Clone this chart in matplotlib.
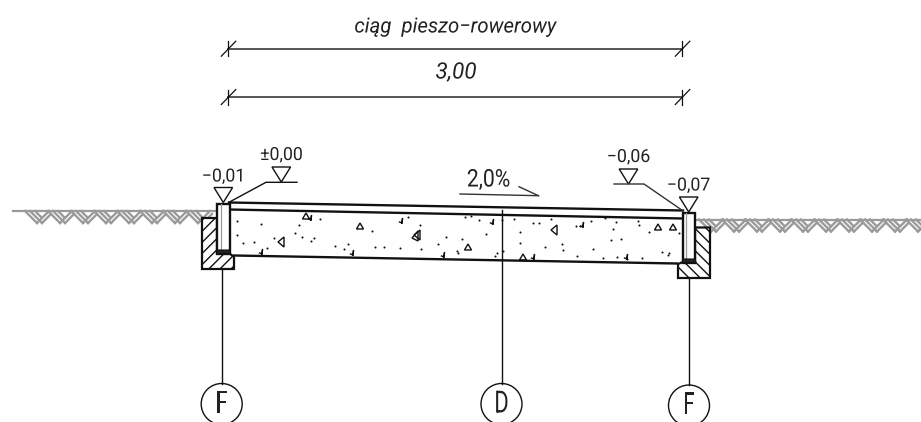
import matplotlib
matplotlib.use("Agg")
import matplotlib.pyplot as plt
from matplotlib.patches import Polygon, Circle
from matplotlib.patheffects import AbstractPathEffect
from matplotlib.transforms import Affine2D

plt.rcParams['font.family'] = ['Roboto', 'Liberation Sans', 'DejaVu Sans']
plt.rcParams['hatch.linewidth'] = 1.0

BLACK = '#111111'
GREY = '#9a9a9a'

# pavement edges, pixel readings
top_x = [229, 683]
top_y = [202.5, 210.5]
under_x = [229, 683]
under_y = [209.5, 218.5]
bottom_x = [234, 677]
bottom_y = [255.5, 263.5]

# kerbs: left, right, top, bottom
kerb_left = [217, 229.5, 203.5, 253.5]
kerb_right = [682.5, 695, 212.5, 262.5]

found_left = [(202, 218), (217, 218), (217, 253), (229, 253), (234, 257), (234, 269), (202, 269)]
found_right = [(695, 227.5), (710, 227.5), (710, 278), (678, 278), (678, 264), (683, 262), (695, 262)]

# elevation marks: text, text x, text y, triangle apex x, apex y
mark_text = ['\u22120,01', '\u00b10,00', '\u22120,06', '\u22120,07']
mark_text_x = [223.5, 281.5, 628.5, 688.5]
mark_text_y = [176.5, 155, 157, 185.5]
mark_apex_x = [223.3, 281.3, 628.5, 688.7]
mark_apex_y = [202.5, 182, 184, 212]

leader_a_x = [229.5, 266, 297]
leader_a_y = [202, 182.3, 182.3]
leader_b_x = [614, 644, 682.5]
leader_b_y = [184, 184, 210.5]

# section bubbles
bubble_x = [221.7, 501.5, 689]
bubble_y = [404, 404, 405.5]
bubble_name = ['F', 'D', 'F']
bubble_from = [269, 210, 278]

dim_y = [48.7, 97]
dim_x = [228.3, 682.3]

# concrete speckle
dots_x = [237, 261, 237, 243, 254, 274, 267, 299, 295, 302, 314, 311, 320, 335, 348, 344, 372, 375, 384,
          408, 420, 446, 462, 486, 479, 465, 471, 438, 421, 400, 457, 458, 497, 495, 503, 502, 514, 533,
          539, 551, 520, 520, 545, 562, 563, 576, 580, 591, 593, 577, 605, 616, 613, 638, 639, 649, 679,
          611, 621, 603, 617, 627, 642, 662, 669, 668]
dots_y = [221, 224, 235, 243, 242, 238, 248, 225, 233, 237, 238, 241, 219, 246, 244, 249, 231, 247, 247,
          217, 225, 237, 239, 234, 220, 217, 216, 244, 249, 248, 251, 253, 253, 256, 251, 220, 219, 223,
          223, 219, 232, 243, 247, 244, 250, 226, 226, 221, 249, 256, 218, 222, 229, 221, 225, 232, 233,
          240, 239, 258, 257, 259, 258, 252, 253, 255]

tri_x = [281, 306, 360, 415, 417, 468, 554, 523, 658, 673]
tri_y = [242, 216, 226, 236, 235, 247, 230, 257, 227, 227]
tri_ang = [180, 90, 90, 0, 180, 90, 180, 90, 90, 90]

tick_x = [262, 311, 353, 402, 493, 444, 534, 583, 627]
tick_y = [253, 219, 254, 222, 223, 256, 258, 226, 258]

# ground hatching starts
ground_left_x = [25, 48, 71, 94, 117, 140, 163, 186]
ground_right_x = [699, 722, 745, 768, 791, 814, 837, 860, 883, 906]

fig = plt.figure(figsize=(9.21, 4.22), dpi=100)
ax = fig.add_axes([0, 0, 1, 1])
ax.set_xlim(0, 921)
ax.set_ylim(422, 0)
ax.axis('off')


class Squeeze(AbstractPathEffect):
    # narrows the glyphs about x (axes fill the figure so data x is pixels)
    def __init__(self, sx, x):
        super().__init__()
        self.sx = sx
        self.x = x

    def draw_path(self, renderer, gc, tpath, affine, rgbFace=None):
        extra = Affine2D().translate(-self.x, 0).scale(self.sx, 1).translate(self.x, 0)
        renderer.draw_path(gc, tpath, affine + extra, rgbFace)


def label(x, y, s, size, sx, **kw):
    t = ax.text(x, y, s, fontsize=size, ha='center', va='center', color='#222222', zorder=9, **kw)
    t.set_path_effects([Squeeze(sx, x)])
    return t


def draw_ground(starts, y0, xa, xb):
    ax.plot([xa, xb], [y0, y0], color=GREY, lw=1.6, zorder=1)
    for x0 in starts:
        for dx in [0, 5]:
            ax.plot([x0 + dx, x0 + dx + 12], [y0, y0 + 12], color=GREY, lw=1.7, zorder=1)
        ax.plot([x0 + 10, x0 + 16], [y0, y0 + 6], color=GREY, lw=1.7, zorder=1)
        ax.plot([x0 + 12, x0 + 24], [y0 + 12, y0], color=GREY, lw=1.7, zorder=1)
        ax.plot([x0 + 17, x0 + 26], [y0 + 12, y0 + 3], color=GREY, lw=1.7, zorder=1)


def draw_tri(x, y, ang):
    if ang == 90:
        pts = [(x - 3.5, y + 3), (x + 3.5, y + 3), (x, y - 3)]
    elif ang == 180:
        pts = [(x + 3, y - 5), (x + 3, y + 5), (x - 3, y)]
    else:
        pts = [(x + 3, y - 5), (x + 3, y + 5), (x - 3, y + 2)]
    ax.add_patch(Polygon(pts, closed=True, fill=False, ec=BLACK, lw=1.0, zorder=3))


draw_ground(ground_left_x, 211, 13, 217)
draw_ground(ground_right_x, 219.5, 695, 921)

# foundations
ax.add_patch(Polygon(found_left, closed=True, fc='white', ec=BLACK, lw=1.6, hatch='///', zorder=2))
ax.add_patch(Polygon(found_right, closed=True, fc='white', ec=BLACK, lw=1.6, hatch='\\\\\\', zorder=2))

# pavement
ax.plot(top_x, top_y, color=BLACK, lw=1.7, zorder=4)
ax.plot(under_x, under_y, color=BLACK, lw=1.7, zorder=4)
ax.plot(bottom_x, bottom_y, color=BLACK, lw=1.7, zorder=4)

# kerbs
for k in [kerb_left, kerb_right]:
    ax.add_patch(Polygon([(k[0], k[2]), (k[1], k[2]), (k[1], k[3]), (k[0], k[3])], closed=True,
                         fc='white', ec=BLACK, lw=1.7, zorder=5))
    ax.plot([k[0] + 3.5, k[0] + 3.5], [k[2], k[3] - 4], color=GREY, lw=0.9, zorder=6)
    ax.add_patch(Polygon([(k[0], k[3] - 3.5), (k[1], k[3] - 3.5), (k[1] + 1, k[3]), (k[0], k[3])], closed=True,
                         fc='#222222', ec=BLACK, lw=0.8, zorder=6))

# concrete fill
ax.scatter(dots_x, dots_y, s=2.2, color=BLACK, linewidths=0, zorder=3)
for x, y, ang in zip(tri_x, tri_y, tri_ang):
    draw_tri(x, y, ang)
for x, y in zip(tick_x, tick_y):
    ax.plot([x - 2.5, x, x + 0.5, x], [y, y + 1, y - 3.5, y + 1], color=BLACK, lw=1.0, zorder=3)

# elevation marks
for t, tx, ty, ax_, ay in zip(mark_text, mark_text_x, mark_text_y, mark_apex_x, mark_apex_y):
    ax.add_patch(Polygon([(ax_ - 9.3, ay - 15), (ax_ + 9.3, ay - 15), (ax_, ay)], closed=True,
                         fill=False, ec=BLACK, lw=1.0, zorder=7))
    label(tx, ty, t, 13, 0.98)
ax.plot(leader_a_x, leader_a_y, color=BLACK, lw=1.0, zorder=7)
ax.plot(leader_b_x, leader_b_y, color='#333333', lw=1.0, zorder=7)

# slope label
label(488.5, 180, '2,0%', 17.5, 0.87)
ax.plot([460, 538.5], [194, 195.7], color='#333333', lw=1.0)
ax.plot([519, 538.5], [186.7, 195.7], color='#333333', lw=1.0)

# dimension lines
for y in dim_y:
    ax.plot(dim_x, [y, y], color='#555555', lw=1.4)
    for x in dim_x:
        ax.plot([x, x], [y - 7.5, y + 7.5], color=BLACK, lw=0.9)
        ax.plot([x - 7, x + 7.5], [y + 7.5, y - 7.5], color=BLACK, lw=0.9)
label(455.5, 27, 'ciąg  pieszo\u2212rowerowy', 15, 0.98, style='italic')
label(456, 73, '3,00', 16.2, 1.0, style='italic')

# section bubbles
for x, y, name, y0 in zip(bubble_x, bubble_y, bubble_name, bubble_from):
    ax.plot([x, x], [y0, y - 20.5], color=BLACK, lw=1.0, zorder=8)
    ax.add_patch(Circle((x, y), 20.5, fill=False, ec=BLACK, lw=1.0, zorder=8))
    label(x, y, name, 22, 0.72)

fig.savefig('out.png', dpi=100)
